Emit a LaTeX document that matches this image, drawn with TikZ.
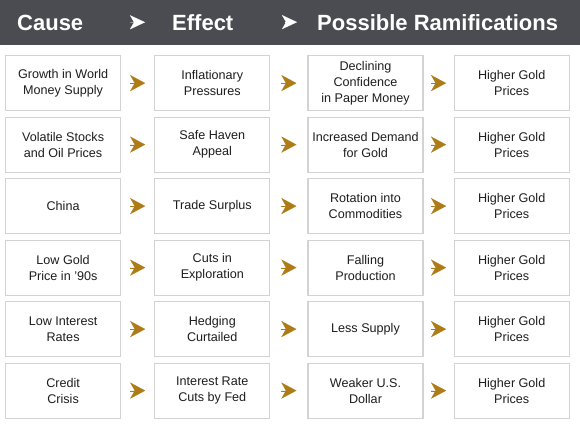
\documentclass[tikz,border=0pt]{standalone}
\usepackage{fontspec}
\setmainfont{Liberation Sans}
\usetikzlibrary{arrows.meta, positioning}
\definecolor{headgray}{HTML}{4B4C51}
\definecolor{boxgray}{HTML}{D3D3D3}
\definecolor{gold}{HTML}{AD7C16}
\definecolor{textgray}{HTML}{1E1E1E}
\tikzset{
        x=1pt, y=1pt, % one unit is one pixel of the picture
        chain box/.style={
		draw=boxgray,
		line width=1.2pt,
		fill=white,
		minimum width=115pt,
		minimum height=55pt,
		align=center,
		text=textgray,
		font=\fontsize{12.6}{16}\selectfont,
	  },
  		gold arrow/.style={
    	-{Stealth[length=15pt,width=16pt,inset=4.5pt]},
		draw=gold, fill=gold, line width=0.1pt,
		shorten <=#1, shorten >=#1,
      },
  		head arrow/.style={
    	-{Stealth[length=15pt,width=14pt,inset=4pt]},
		draw=white, fill=white, line width=0.1pt,
      },
  		head text/.style={
    	anchor=base west, inner sep=0pt, text=white,
		font=\fontsize{22}{26}\selectfont\bfseries,
      }
  	}
\begin{document}
\begin{tikzpicture}
    \useasboundingbox (0,0) rectangle (580,-424);
    % title bar
    \fill[headgray] (0,0) rectangle (580,-45);
    \node [head text] (cause) at (17,-30) {Cause};
    \node [head text] (effect) at (172,-30) {Effect};
    \node [head text] (ramif) at (317,-30) {Possible Ramifications};
    \draw [head arrow, shorten <=47pt, shorten >=27pt] (cause) -- (effect);
    \draw [head arrow, shorten <=51pt, shorten >=20pt] (effect) -- (ramif);
    % causes
    \node [chain box, anchor=north west] (c1) at (5,-55) {Growth in World\\Money Supply};
    \node [chain box, below=5.3pt of c1] (c2) {Volatile Stocks\\and Oil Prices};
    \node [chain box, below=5.3pt of c2] (c3) {China};
    \node [chain box, below=5.3pt of c3] (c4) {Low Gold\\Price in '90s};
    \node [chain box, below=5.3pt of c4] (c5) {Low Interest\\Rates};
    \node [chain box, below=5.3pt of c5] (c6) {Credit\\Crisis};
    % effects
    \node [chain box, right=33pt of c1] (e1) {Inflationary\\Pressures};
    \node [chain box, right=33pt of c2] (e2) {Safe Haven\\Appeal};
    \node [chain box, right=33pt of c3] (e3) {Trade Surplus};
    \node [chain box, right=33pt of c4] (e4) {Cuts in\\Exploration};
    \node [chain box, right=33pt of c5] (e5) {Hedging\\Curtailed};
    \node [chain box, right=33pt of c6] (e6) {Interest Rate\\Cuts by Fed};
    % ramifications
    \node [chain box, right=37pt of e1] (r1) {Declining\\Confidence\\in Paper Money};
    \node [chain box, right=37pt of e2] (r2) {Increased Demand\\for Gold};
    \node [chain box, right=37pt of e3] (r3) {Rotation into\\Commodities};
    \node [chain box, right=37pt of e4] (r4) {Falling\\Production};
    \node [chain box, right=37pt of e5] (r5) {Less Supply};
    \node [chain box, right=37pt of e6] (r6) {Weaker U.S.\\Dollar};
    % prices
    \node [chain box, right=30pt of r1] (p1) {Higher Gold\\Prices};
    \node [chain box, right=30pt of r2] (p2) {Higher Gold\\Prices};
    \node [chain box, right=30pt of r3] (p3) {Higher Gold\\Prices};
    \node [chain box, right=30pt of r4] (p4) {Higher Gold\\Prices};
    \node [chain box, right=30pt of r5] (p5) {Higher Gold\\Prices};
    \node [chain box, right=30pt of r6] (p6) {Higher Gold\\Prices};
    % arrows
    \draw [gold arrow=9pt] (c1) -- (e1);
    \draw [gold arrow=9pt] (c2) -- (e2);
    \draw [gold arrow=9pt] (c3) -- (e3);
    \draw [gold arrow=9pt] (c4) -- (e4);
    \draw [gold arrow=9pt] (c5) -- (e5);
    \draw [gold arrow=9pt] (c6) -- (e6);
    \draw [gold arrow=11pt] (e1) -- (r1);
    \draw [gold arrow=11pt] (e2) -- (r2);
    \draw [gold arrow=11pt] (e3) -- (r3);
    \draw [gold arrow=11pt] (e4) -- (r4);
    \draw [gold arrow=11pt] (e5) -- (r5);
    \draw [gold arrow=11pt] (e6) -- (r6);
    \draw [gold arrow=7.5pt] (r1) -- (p1);
    \draw [gold arrow=7.5pt] (r2) -- (p2);
    \draw [gold arrow=7.5pt] (r3) -- (p3);
    \draw [gold arrow=7.5pt] (r4) -- (p4);
    \draw [gold arrow=7.5pt] (r5) -- (p5);
    \draw [gold arrow=7.5pt] (r6) -- (p6);
  \end{tikzpicture}
\end{document}
